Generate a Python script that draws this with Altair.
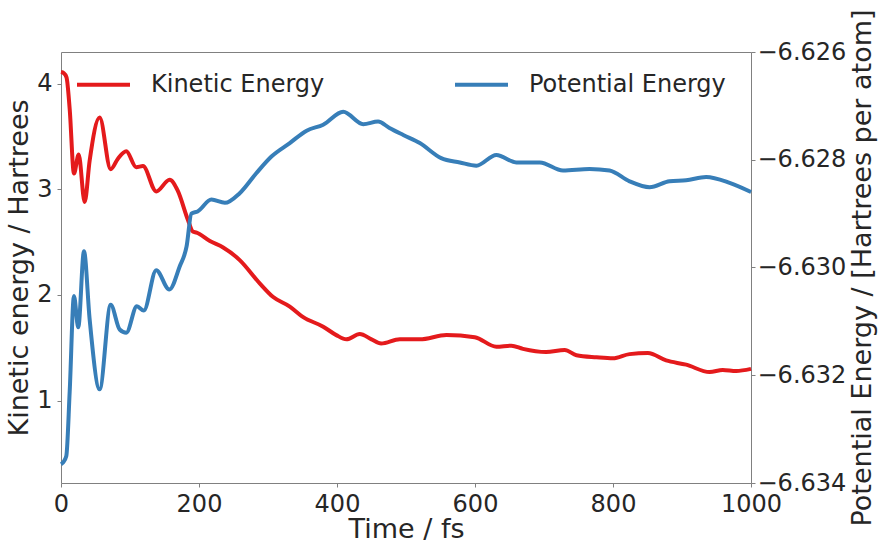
import altair as alt
import pandas as pd

# Kinetic energy (left axis, Hartrees)
t_kin = [0, 4, 8, 12.6, 18.8, 25.6, 34.3, 41.5, 56, 72, 82.5, 94.6, 109, 118.8, 138,
         157.4, 169, 184, 191, 196.5, 215.8, 235, 259, 288, 307.5, 331.6, 351, 380,
         399, 413.7, 433, 450, 464, 491, 520, 558.6, 599.6, 631, 652.7, 669.5, 703,
         730, 747, 776, 800, 824, 850.5, 877, 906, 940, 959, 978.5, 1000]
kinetic = [4.11, 4.10, 4.06, 3.76, 3.15, 3.33, 2.88, 3.27, 3.68, 3.19, 3.29, 3.36,
           3.21, 3.22, 2.98, 3.09, 2.99, 2.71, 2.60, 2.59, 2.51, 2.45, 2.33, 2.11,
           1.98, 1.89, 1.79, 1.70, 1.62, 1.58, 1.63, 1.58, 1.54, 1.58, 1.58, 1.62,
           1.60, 1.51, 1.52, 1.49, 1.46, 1.48, 1.43, 1.41, 1.40, 1.44, 1.45, 1.38,
           1.34, 1.27, 1.29, 1.28, 1.30]

# Potential energy (right axis, Hartrees per atom)
t_pot = [0, 3, 7.7, 12.6, 18.8, 25, 33.3, 41.5, 56, 72, 85, 94.6, 110, 120, 138,
         157, 172, 182, 189, 198, 218, 237.5, 259, 283, 305, 331.6, 356, 380, 409,
         438, 459.5, 476, 496, 520, 551, 578, 602, 631, 660, 694, 727.5, 766, 795,
         824, 853, 882, 906, 935, 969, 1000]
potential = [-6.63365, -6.63362, -6.63350, -6.63230, -6.63053, -6.63111, -6.62970,
             -6.63096, -6.63226, -6.63069, -6.63115, -6.63121, -6.63072, -6.63080,
             -6.63005, -6.63041, -6.62998, -6.62961, -6.62900, -6.62896, -6.62874,
             -6.62880, -6.62862, -6.62825, -6.62794, -6.62769, -6.62746, -6.62735,
             -6.62711, -6.62734, -6.62729, -6.62741, -6.62754, -6.62769, -6.62797,
             -6.62805, -6.62811, -6.62791, -6.62805, -6.62805, -6.62820, -6.62817,
             -6.62820, -6.62840, -6.62851, -6.62840, -6.62838, -6.62832, -6.62843,
             -6.62860]

series_names = ["Kinetic Energy", "Potential Energy"]
series_colors = ["#e41a1c", "#377eb8"]

df_k = pd.DataFrame({"t": t_kin, "v": kinetic, "series": series_names[0]})
df_p = pd.DataFrame({"t": t_pot, "v": potential, "series": series_names[1]})

FONT = "DejaVu Sans"
TXT = "#262626"

x_enc = alt.X("t:Q", scale=alt.Scale(domain=[0, 1000], nice=False, zero=False),
              axis=alt.Axis(title="Time / fs", values=[0, 200, 400, 600, 800, 1000],
                            format="d", labelFlush=False, titlePadding=0))

color_enc = alt.Color("series:N",
                      scale=alt.Scale(domain=series_names, range=series_colors),
                      legend=alt.Legend(title=None, orient="none", legendX=14, legendY=4,
                                        direction="horizontal", columns=2,
                                        symbolType="stroke", symbolSize=2809,
                                        symbolStrokeWidth=4, labelFontSize=24,
                                        labelOffset=19, columnPadding=122,
                                        labelLimit=400,
                                        labelFont=FONT, labelColor=TXT))

kin = alt.Chart(df_k).mark_line(strokeWidth=4, interpolate="monotone").encode(
    x=x_enc,
    y=alt.Y("v:Q", scale=alt.Scale(domain=[0.22, 4.30], nice=False, zero=False),
            axis=alt.Axis(title="Kinetic energy / Hartrees", values=[1, 2, 3, 4],
                          format="d", titlePadding=3)),
    color=color_enc,
)

pot = alt.Chart(df_p).mark_line(strokeWidth=4, interpolate="monotone").encode(
    x=x_enc,
    y=alt.Y("v:Q", scale=alt.Scale(domain=[-6.634, -6.626], nice=False, zero=False),
            axis=alt.Axis(title="Potential Energy / [Hartrees per atom]", orient="right",
                          values=[-6.634, -6.632, -6.630, -6.628, -6.626], format=".3f",
                          labelPadding=2, labelFlush=False,
                          titleAngle=270, titleBaseline="top", titlePadding=4)),
    color=color_enc,
)

chart = alt.layer(kin, pot).resolve_scale(y="independent").properties(
    width=690, height=431,
    autosize=alt.AutoSizeParams(type="none"),
    padding={"left": 61, "top": 52, "right": 130, "bottom": 58},
    background="white",
).configure_view(stroke="#808080", strokeWidth=1).configure_axis(
    grid=False, domain=False, ticks=True, tickColor="#808080", tickSize=4, tickWidth=1,
    labelFont=FONT, labelFontSize=24, labelColor=TXT, labelPadding=5,
    titleFont=FONT, titleFontSize=27, titleFontWeight="normal", titleColor=TXT,
)

chart.save("out.html", embed_options={"renderer": "svg", "actions": False})
